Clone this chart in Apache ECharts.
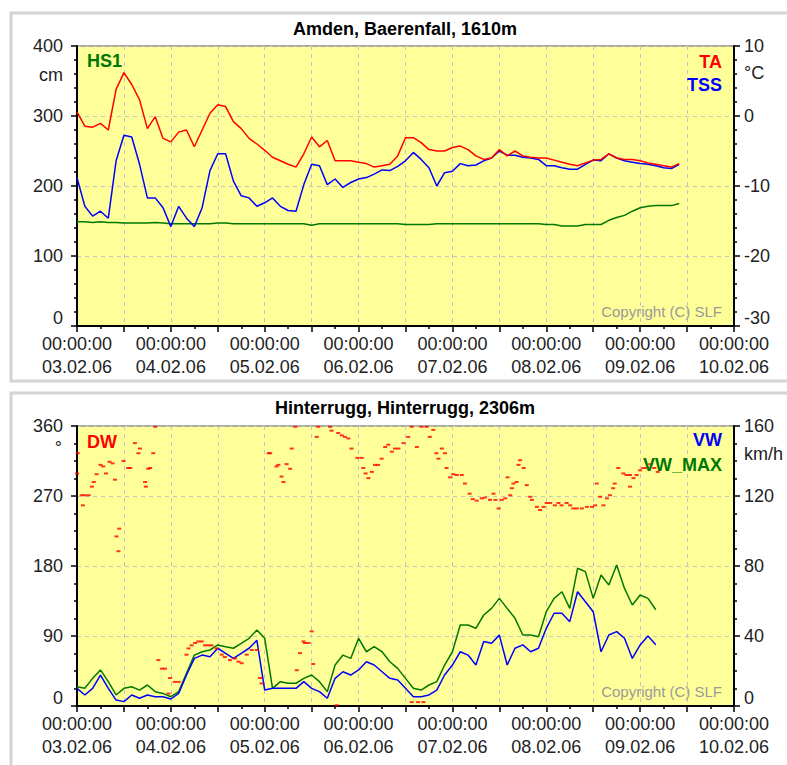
<!DOCTYPE html>
<html>
<head>
<meta charset="utf-8">
<script src="https://cdn.jsdelivr.net/npm/echarts@6/dist/echarts.min.js"></script>
<style>
html,body{margin:0;padding:0;background:#fff;}
#c{width:787px;height:765px;}
</style>
</head>
<body>
<div id="c"></div>
<script>
// ---------- data (2-hour sampling, hours since 03.02.06 00:00) ----------
const STEP = 2;
const dateLabels = ['03.02.06','04.02.06','05.02.06','06.02.06','07.02.06','08.02.06','09.02.06','10.02.06'];
const timeLabel = '00:00:00';

// Top panel: Amden, Baerenfall
const hs1 = [149,149,148,149,148,148, 147,147,147,147,148,147, 146,146,146,146,146,146,
  147,147,146,146,146,146, 146,146,146,146,146,146, 144,146,146,146,146,146,
  146,146,146,146,146,146, 145,145,145,145,146,146, 146,146,146,146,146,146,
  146,146,146,146,146,146, 145,145,143,143,143,145, 145,145,151,155,158,164,
  169,171,172,172,172,175];
const ta = [0.6,-1.45,-1.6,-1.05,-2.0,3.8,6.2,4.5,2.3,-1.8,-0.1,-3.2,-3.7,-2.3,-2.0,-4.4,
  -2.0,0.4,1.6,1.35,-0.8,-1.8,-3.2,-4.0,-4.9,-5.9,-6.4,-6.9,-7.3,-5.4,-3.0,-4.4,-3.5,
  -6.4,-6.4,-6.4,-6.6,-6.8,-7.3,-7.1,-6.9,-5.7,-3.1,-3.1,-3.8,-4.8,-5.0,-5.0,-4.5,-4.3,
  -4.8,-5.7,-6.2,-6.0,-4.8,-5.7,-5.0,-5.7,-5.9,-6.0,-6.0,-6.3,-6.6,-6.9,-7.1,-6.7,-6.3,
  -6.2,-5.4,-6.0,-6.2,-6.2,-6.4,-6.7,-6.9,-7.1,-7.3,-6.8];
const tss = [-8.8,-12.9,-14.3,-13.6,-14.6,-6.4,-2.75,-3.0,-6.9,-11.7,-11.7,-13.1,-15.8,-12.9,
  -14.6,-15.8,-13.1,-7.8,-5.4,-5.4,-9.3,-11.4,-11.7,-12.9,-12.4,-11.7,-12.9,-13.5,-13.6,
  -9.8,-6.9,-7.1,-9.8,-9.0,-10.2,-9.5,-9.0,-8.8,-8.3,-7.7,-7.8,-7.2,-6.4,-5.2,-6.2,-7.4,
  -10.0,-8.1,-7.9,-6.8,-7.1,-7.0,-6.4,-6.0,-5.0,-5.6,-5.6,-5.9,-6.0,-6.2,-7.1,-7.1,-7.4,
  -7.6,-7.6,-6.9,-6.3,-6.4,-5.4,-6.0,-6.4,-6.6,-6.8,-6.9,-7.1,-7.4,-7.5,-6.9];

// Bottom panel: Hinterrugg
const vw = [10.1,6.3,10.1,17.7,10.1,3.4,2.5,6.3,4.4,6.3,5.3,5.3,4.0,7.2,17.7,27.2,29.1,28.2,
  33.0,30.1,27.2,30.1,33.0,37.5,9.1,10.1,10.1,10.1,10.1,13.9,10.1,8.2,4.4,15.8,19.6,17.7,
  20.6,25.3,23.4,19.6,15.8,14.9,10.1,5.3,5.3,6.3,9.1,17.7,23.4,31.0,29.1,23.4,36.8,35.8,
  40.5,23.4,33.0,34.9,31.0,33.0,44.4,53.0,53.0,48.2,65.3,59.6,53.9,31.0,40.6,42.5,38.7,
  27.2,34.9,40.0,35.0];
const vwMax = [11.0,10.1,15.8,20.6,13.9,6.3,10.1,11.0,9.1,12.0,8.2,7.2,5.3,8.2,18.7,29.1,31.0,
  32.0,34.9,33.9,33.0,35.8,38.7,43.4,38.7,10.1,13.9,13.0,13.0,15.8,17.7,13.9,8.2,23.4,29.1,
  27.2,38.7,31.0,33.9,31.0,25.3,21.5,15.8,10.1,9.1,12.0,13.9,23.4,31.0,46.3,46.3,44.4,52.0,
  55.8,61.5,55.8,50.1,40.6,40.6,39.6,53.9,61.5,65.3,55.8,78.7,76.8,61.5,74.9,69.1,80.6,
  67.2,57.7,63.4,61.5,55.0];
const dwHour = [0,0.2,1.2,1.5,2,3,3.8,4.3,5,6,6.7,7.4,8.3,9.1,9.7,10.1,10.6,10.8,11.9,13.1,13.6,
  14.8,15.7,16.1,17.4,17.6,18.2,18.7,19.5,20,20.8,21.7,22.5,23.4,23.8,25,26,28,28.5,29.3,
  30.2,31,31.9,32.7,33.6,34.4,35.7,37,37.8,39.1,40.4,41.3,42.1,43.4,44.7,46,46.8,47.2,49,
  49.4,51,51.5,52.3,52.8,53.6,54.5,54.9,55.8,56.2,57,57.9,58.3,59.2,60,60.4,61.3,61.7,64.7,
  65.1,66.4,66.8,67.7,68.5,69.4,70.2,71.7,72.8,73.2,73.8,74.5,75.4,76.2,77,77.9,78.8,79.6,
  80.5,81.3,82.2,83.5,84.7,85.6,85.6,86.9,87.2,88.1,88.6,89.4,90.2,91.1,91.9,92.4,93.3,94.1,
  94.5,95.4,96.2,97.1,98.4,99.2,100.4,101.2,102.2,103.5,104.3,105.6,106.5,107,107.8,108.6,
  109.5,110.1,110.8,111.2,111.6,112.4,112.9,113.3,114.2,115,115.9,116.3,117.6,118.4,119.3,
  120.1,121,122.2,123.1,123.9,125.2,126.1,126.9,127.8,129.1,130.4,131.7,132.5,132.9,133.8,
  134.6,135.5,136.3,137.1,137.5,138.4,139.7,140.5,141.4,141.4,142.3,143.1,144,144.8,145.7,
  146.6,147.6,148.5];
const dwDir = [299,325,271,258,271,271,282,288,298,310,308,299,314,312,291,218,199,228,315,306,306,
  338,325,331,288,282,305,306,325,359,59,48,48,16,36,31,31,66,74,78,
  81,83,83,78,78,78,74,66,63,59,61,57,55,66,72,72,36,29,325,
  325,308,310,295,288,311,305,331,359,46,68,83,81,81,96,54,346,359,359,
  354,1,351,348,346,344,331,319,319,306,299,293,301,310,310,318,333,336,
  327,331,331,338,346,359,5,333,5,359,5,359,346,355,325,318,331,325,
  306,294,298,297,297,286,273,266,264,267,268,265,273,265,254,265,
  267,294,271,280,286,288,310,316,306,284,269,265,256,252,256,
  261,261,258,261,258,261,258,254,254,254,256,256,258,286,269,
  258,267,271,280,286,306,299,297,297,282,293,297,303,306,306,
  311,306,301];

// ---------- chart ----------
const FONT = "'Liberation Sans', Arial, sans-serif";
const RED = '#ff0000', BLUE = '#0000ff', GREEN = '#007800';
const pairs = arr => arr.map((v, i) => [i * STEP, v]);

function xAxisCfg(gridIndex) {
  return {
    type: 'value', gridIndex, min: 0, max: 168, interval: 12,
    axisLine: { show: true, onZero: false, lineStyle: { color: '#000', width: 2 } },
    axisTick: { show: true, length: 6, lineStyle: { color: '#000', width: 1.5 } },
    minorTick: { show: true, splitNumber: 2, length: 3, lineStyle: { color: '#000', width: 1.5 } },
    splitLine: { show: true, lineStyle: { color: '#c4c4c4', type: [4, 4], width: 1 } },
    axisLabel: {
      margin: 6, color: '#222', fontFamily: FONT, fontSize: 18, lineHeight: 23,
      showMaxLabel: true, showMinLabel: true,
      formatter: v => (v % 24 === 0 ? timeLabel + '\n' + dateLabels[v / 24] : '')
    }
  };
}
function yAxisCfg(gridIndex, pos, min, max, interval, minorSplit, split) {
  return {
    type: 'value', gridIndex, position: pos, min, max, interval,
    axisLine: { show: true, onZero: false, lineStyle: { color: '#000', width: 2 } },
    axisTick: { show: true, length: 6, lineStyle: { color: '#000', width: 1.5 } },
    minorTick: { show: true, splitNumber: minorSplit, length: 3, lineStyle: { color: '#000', width: 1.5 } },
    splitLine: { show: split, lineStyle: { color: '#c4c4c4', type: [4, 4], width: 1 } },
    axisLabel: {
      margin: pos === 'left' ? 14 : 10, color: '#222', fontFamily: FONT, fontSize: 18,
      formatter: v => (v === min ? '{lo|' + v + '}' : String(v)),
      rich: { lo: { fontFamily: FONT, fontSize: 18, color: '#222', padding: [0, 0, 16, 0] } }
    }
  };
}
function lineSeries(name, data, color, xi, yi) {
  return { name, type: 'line', data: pairs(data), xAxisIndex: xi, yAxisIndex: yi,
    showSymbol: false, symbol: 'none', lineStyle: { color, width: 1.5 }, itemStyle: { color },
    animation: false, z: 3 };
}
function txt(text, x, y, color, size, bold, align) {
  return { type: 'text', x, y, z: 100, style: { text, fill: color, fontFamily: FONT,
    fontSize: size, fontWeight: bold ? 'bold' : 'normal', textAlign: align || 'left', textVerticalAlign: 'middle' } };
}

const chart = echarts.init(document.getElementById('c'), null, { renderer: 'svg' });
chart.setOption({
  animation: false,
  backgroundColor: '#ffffff',
  title: [
    { text: 'Amden, Baerenfall, 1610m', left: 405, top: 20, textAlign: 'center', padding: 0,
      textStyle: { fontFamily: FONT, fontSize: 18, fontWeight: 'bold', color: '#000' } },
    { text: 'Hinterrugg, Hinterrugg, 2306m', left: 405, top: 399, textAlign: 'center', padding: 0,
      textStyle: { fontFamily: FONT, fontSize: 18, fontWeight: 'bold', color: '#000' } }
  ],
  grid: [
    { left: 77, top: 46, width: 657, height: 280, show: true, backgroundColor: '#ffff99', borderColor: '#555', borderWidth: 1 },
    { left: 77, top: 426, width: 657, height: 280, show: true, backgroundColor: '#ffff99', borderColor: '#555', borderWidth: 1 }
  ],
  xAxis: [xAxisCfg(0), xAxisCfg(1)],
  yAxis: [
    yAxisCfg(0, 'left', 0, 400, 100, 5, true),
    yAxisCfg(0, 'right', -30, 10, 10, 5, false),
    yAxisCfg(1, 'left', 0, 360, 90, 4, true),
    yAxisCfg(1, 'right', 0, 160, 40, 4, false)
  ],
  series: [
    lineSeries('HS1', hs1, GREEN, 0, 0),
    lineSeries('TSS', tss, BLUE, 0, 1),
    lineSeries('TA', ta, RED, 0, 1),
    lineSeries('VW_MAX', vwMax, GREEN, 1, 3),
    lineSeries('VW', vw, BLUE, 1, 3),
    { name: 'DW', type: 'scatter', xAxisIndex: 1, yAxisIndex: 2,
      data: dwHour.map((h, i) => [h, dwDir[i]]),
      symbol: 'rect', symbolSize: [4, 2], itemStyle: { color: RED }, z: 4, animation: false }
  ],
  graphic: [
    { type: 'rect', z: -10, shape: { x: 11, y: 13, width: 800, height: 368 },
      style: { fill: '#fff', stroke: '#d4d4d4', lineWidth: 3 } },
    { type: 'rect', z: -10, shape: { x: 11, y: 393, width: 800, height: 400 },
      style: { fill: '#fff', stroke: '#d4d4d4', lineWidth: 3 } },
    txt('HS1', 87, 61, GREEN, 18, true),
    txt('TA', 722, 62, RED, 18, true, 'right'),
    txt('TSS', 722, 85, BLUE, 18, true, 'right'),
    txt('cm', 63, 75, '#222', 18, false, 'right'),
    txt('°C', 744, 73, '#222', 18, false, 'left'),
    txt('Copyright (C) SLF', 722, 311, '#9a9a9a', 15, false, 'right'),
    txt('DW', 87, 442, RED, 18, true),
    txt('VW', 722, 440, BLUE, 18, true, 'right'),
    txt('VW_MAX', 722, 465, GREEN, 18, true, 'right'),
    txt('°', 62, 448, '#222', 18, false, 'right'),
    txt('km/h', 744, 454, '#222', 18, false, 'left'),
    txt('Copyright (C) SLF', 722, 691, '#9a9a9a', 15, false, 'right')
  ]
});
</script>
</body>
</html>
